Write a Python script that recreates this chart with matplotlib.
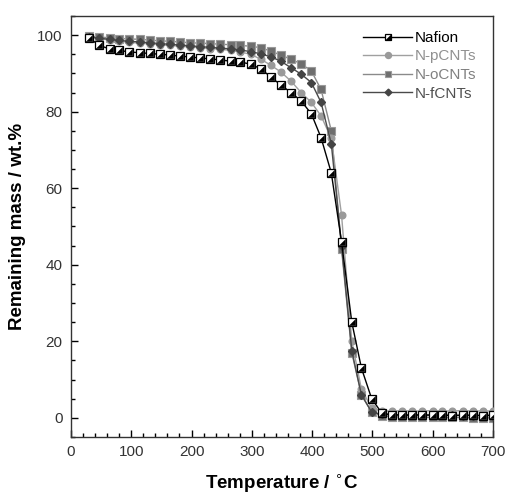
import numpy as np
import matplotlib
matplotlib.use("Agg")
import matplotlib.pyplot as plt
from matplotlib.legend_handler import HandlerTuple

plt.rcParams["font.family"] = ["Liberation Sans", "DejaVu Sans"]

temps = [30, 47, 64, 80, 97, 114, 131, 147, 164, 181, 198, 214, 231, 248, 265, 281,
         298, 315, 332, 348, 365, 382, 399, 415, 432, 449, 466, 482, 499, 516, 533,
         549, 566, 583, 600, 616, 633, 650, 667, 683, 700]

nafion = [99.3, 97.3, 96.4, 96.0, 95.6, 95.4, 95.2, 95.0, 94.8, 94.5, 94.3, 94.0, 93.8,
          93.5, 93.2, 93.0, 92.4, 91.2, 89.0, 87.0, 85.0, 82.8, 79.4, 73.2, 64.0, 46.0,
          25.0, 13.0, 5.0, 1.2, 0.8, 0.7, 0.7, 0.8, 0.7, 0.7, 0.6, 0.7, 0.7, 0.6, 0.7]
n_pcnts = [99.5, 99.1, 98.7, 98.4, 98.1, 97.9, 97.7, 97.5, 97.3, 97.1, 96.9, 96.7, 96.5,
           96.3, 96.0, 95.6, 95.0, 93.7, 92.1, 90.4, 88.0, 85.0, 82.4, 78.9, 73.0, 53.0,
           20.0, 7.5, 2.5, 1.8, 1.8, 1.9, 1.8, 1.8, 1.9, 1.8, 1.8, 1.9, 1.8, 1.8, 1.8]
n_ocnts = [99.7, 99.5, 99.3, 99.1, 99.0, 98.9, 98.7, 98.5, 98.4, 98.2, 98.0, 97.9, 97.8,
           97.6, 97.5, 97.3, 97.1, 96.7, 95.8, 94.8, 93.7, 92.5, 90.6, 85.8, 75.0, 44.0,
           17.0, 6.0, 1.5, 0.5, 0.3, 0.2, 0.2, 0.2, 0.1, 0.1, 0.1, 0.1, 0.0, 0.0, 0.0]
n_fcnts = [99.5, 99.2, 98.9, 98.6, 98.4, 98.2, 98.0, 97.8, 97.6, 97.4, 97.2, 97.0, 96.8,
           96.6, 96.4, 96.1, 95.7, 95.1, 94.3, 93.2, 91.5, 89.8, 87.6, 82.4, 71.6, 45.0,
           17.5, 6.0, 1.5, 0.9, 0.8, 0.8, 0.8, 0.7, 0.7, 0.7, 0.7, 0.6, 0.6, 0.6, 0.6]

fig = plt.figure(figsize=(5.07, 4.93), dpi=100)
ax = fig.add_axes([0.140, 0.1136, 0.832, 0.854])

# lower-right black triangle for the half-filled Nafion squares
tri = [(-1, -1), (1, -1), (1, 1), (-1, -1)]

l_o, = ax.plot(temps, n_ocnts, color="#8a8a8a", lw=1, marker="s", ms=5.5,
               mfc="#6e6e6e", mec="#9a9a9a", mew=0.8, zorder=2)
l_p, = ax.plot(temps, n_pcnts, color="#a0a0a0", lw=1, marker="o", ms=4.8,
               mfc="#9a9a9a", mec="#9a9a9a", zorder=3)
l_f, = ax.plot(temps, n_fcnts, color="#4a4a4a", lw=1, marker="D", ms=3.8,
               mfc="#444444", mec="#444444", zorder=4)
l_n, = ax.plot(temps, nafion, color="black", lw=1, marker="s", ms=5.5,
               mfc="white", mec="black", mew=0.9, zorder=5)
l_t, = ax.plot(temps, nafion, ls="none", marker=tri, ms=4.6,
               mfc="black", mec="black", mew=0.3, zorder=6)

ax.set_xlim(0, 700)
ax.set_ylim(-5, 105)
ax.set_xticks(np.arange(0, 701, 100))
ax.set_xticks(np.arange(0, 701, 20), minor=True)
ax.set_yticks(np.arange(0, 101, 20))
ax.set_yticks(np.arange(-5, 106, 5), minor=True)
ax.tick_params(which="major", direction="in", length=5, width=1, labelsize=11,
               labelcolor="#333333", pad=6)
ax.tick_params(which="minor", direction="in", length=3, width=1)
for s in ax.spines.values():
    s.set_linewidth(1)
    s.set_color("#333333")

ax.set_xlabel("Temperature / $^{\\circ}$C", fontsize=13.5, fontweight="bold", labelpad=9)
ax.set_ylabel("Remaining mass / wt.%", fontsize=13.5, fontweight="bold", labelpad=8)

leg = ax.legend([(l_n, l_t), l_p, l_o, l_f], ["Nafion", "N-pCNTs", "N-oCNTs", "N-fCNTs"],
                handler_map={tuple: HandlerTuple(ndivide=1)},
                loc="upper right", bbox_to_anchor=(0.985, 0.99), frameon=False,
                fontsize=11, handlelength=3.2, handletextpad=0.15, labelspacing=0.3,
                borderaxespad=0.3, markerscale=0.9)
for txt, c in zip(leg.get_texts(), ["black", "#909090", "#808080", "#505050"]):
    txt.set_color(c)

fig.savefig("out.png", dpi=100)
